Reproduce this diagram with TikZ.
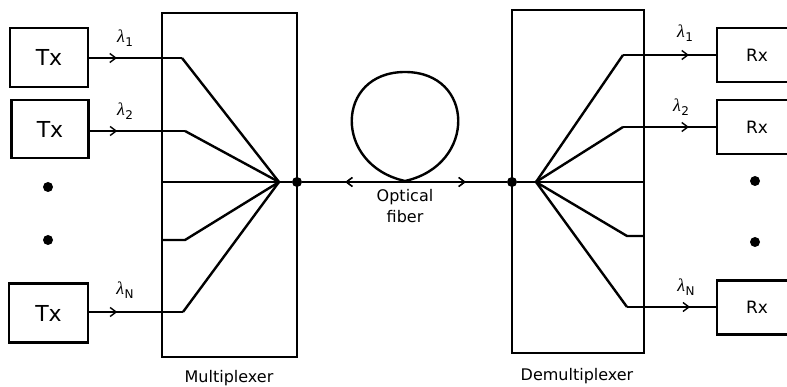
\documentclass[tikz,border=0pt]{standalone}
\usepackage{fontspec}
\setmainfont{DejaVu Sans}
\newfontfamily\lamfont{Liberation Serif}
\usetikzlibrary{arrows.meta,decorations.markings}
\newcommand{\lam}[1]{{\lamfont\itshape λ}\kern0.5pt\raisebox{-3.5pt}{\fontsize{12}{12}\selectfont #1}}
\tikzset{
  ln/.style={line width=2.4pt, line join=round},
  box/.style={draw, line width=2.2pt, rectangle, inner sep=0pt},
  dotn/.style={circle, fill, inner sep=0pt, minimum size=10pt},
  midr/.style={postaction={decorate}, decoration={markings, mark=at position #1 with {\arrow[line width=1.4pt]{Straight Barb[length=6pt,width=9pt]}}}},
  midl/.style={postaction={decorate}, decoration={markings, mark=at position #1 with {\arrowreversed[line width=1.4pt]{Straight Barb[length=6pt,width=9pt]}}}},
  lamn/.style={font=\fontsize{18}{18}\selectfont, inner sep=0pt},
  lbl/.style={font=\fontsize{16}{16}\selectfont, inner sep=0pt},
}
\begin{document}
\begin{tikzpicture}[x=1pt,y=-1pt]
\useasboundingbox (0,0) rectangle (787,387);
\clip (0,0) rectangle (787,387);
% Tx boxes
\node[box, minimum width=78pt, minimum height=59pt, font=\fontsize{22}{22}\selectfont] (tx1) at (49,57.5) {Tx};
\node[box, minimum width=77pt, minimum height=58pt, font=\fontsize{22}{22}\selectfont] (tx2) at (50,129) {Tx};
\node[box, minimum width=79pt, minimum height=59pt, font=\fontsize{22}{22}\selectfont] (tx3) at (48.5,313) {Tx};
\node[dotn] (ld1) at (48,187) {};
\node[dotn] (ld2) at (48,240) {};
% Rx boxes
\node[box, minimum width=80pt, minimum height=54pt, font=\fontsize{17}{17}\selectfont] (rx1) at (757,55) {Rx};
\node[box, minimum width=80pt, minimum height=54pt, font=\fontsize{17}{17}\selectfont] (rx2) at (757,127) {Rx};
\node[box, minimum width=80pt, minimum height=54pt, font=\fontsize{17}{17}\selectfont] (rx3) at (757,307.5) {Rx};
\node[dotn] (rd1) at (755,181) {};
\node[dotn] (rd2) at (755,242) {};
% Mux / Demux boxes
\node[box, minimum width=135pt, minimum height=344pt] (mux) at (229.5,185) {};
\node[box, minimum width=132pt, minimum height=343pt] (dmx) at (578,181.5) {};
% key coordinates
\coordinate (mc) at (279,182);
\coordinate (dc) at (536,182);
\node[dotn] (md) at (297,182) {};
\node[dotn] (dd) at (512,182) {};
\coordinate (b1) at (182,58);
\coordinate (b2) at (185,131);
\coordinate (b3) at (162,182);
\coordinate (b4a) at (162,240);
\coordinate (b4) at (185,240);
\coordinate (b5) at (183,312);
\coordinate (c1) at (623,55);
\coordinate (c2) at (623,127);
\coordinate (c3) at (644,182);
\coordinate (c4) at (627,236);
\coordinate (c4a) at (644,236);
\coordinate (c5) at (627,307);
% Mux lines
\draw[ln, midr=0.3] (b1 -| tx1.east) -- (b1);
\draw[ln] (b1) -- (mc);
\draw[ln, midr=0.29] (b2 -| tx2.east) -- (b2);
\draw[ln] (b2) -- (mc);
\draw[ln] (b3) -- (mc);
\draw[ln] (b4a) -- (b4) -- (mc);
\draw[ln, midr=0.3] (b5 -| tx3.east) -- (b5);
\draw[ln] (b5) -- (mc);
\draw[ln] (mc) -- (md);
% fiber
\draw[ln, midl=0.21, midr=0.8] (md) -- (dd);
\draw[ln] (405,181) .. controls (333,165) and (335,72) .. (405,72) .. controls (475,72) and (477,165) .. (405,181);
\node[lbl] (opt) at (405,197) {Optical};
\node[lbl] (fib) at (405,217) {fiber};
% Demux lines
\draw[ln] (dd) -- (dc);
\draw[ln] (dc) -- (c1);
\draw[ln, midr=0.71] (c1) -- (c1 -| rx1.west);
\draw[ln] (dc) -- (c2);
\draw[ln, midr=0.71] (c2) -- (c2 -| rx2.west);
\draw[ln] (dc) -- (c3);
\draw[ln] (dc) -- (c4) -- (c4a);
\draw[ln] (dc) -- (c5);
\draw[ln, midr=0.71] (c5) -- (c5 -| rx3.west);
% labels
\node[lamn] (l1) at (125,38) {\lam{1}};
\node[lamn] (l2) at (125,111) {\lam{2}};
\node[lamn] (l3) at (125,290) {\lam{N}};
\node[lamn] (r1) at (685,33) {\lam{1}};
\node[lamn] (r2) at (681,107) {\lam{2}};
\node[lamn] (r3) at (686,287) {\lam{N}};
\node[lbl] (mlab) at (229,378) {Multiplexer};
\node[lbl] (dlab) at (577,376) {Demultiplexer};
\end{tikzpicture}
\end{document}
